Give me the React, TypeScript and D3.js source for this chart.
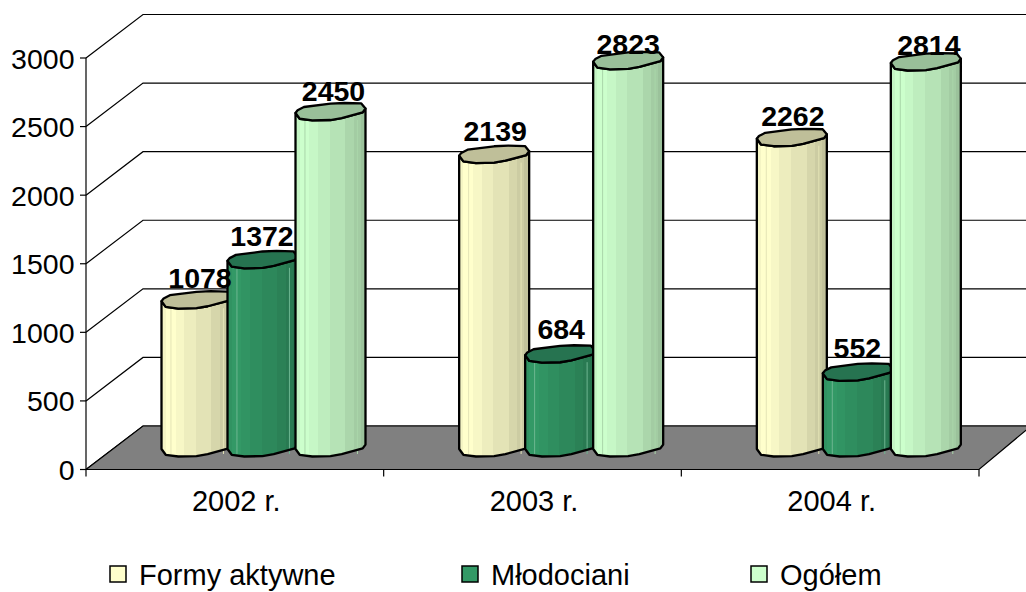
import React from 'react';
import * as d3 from 'd3';

const categories = ['2002 r.', '2003 r.', '2004 r.'];
const seriesNames = ['Formy aktywne', 'Młodociani', 'Ogółem'];
const formyAktywne = [1078, 2139, 2262];
const mlodociani = [1372, 684, 552];
const ogolem = [2450, 2823, 2814];
const yTicks = [0, 500, 1000, 1500, 2000, 2500, 3000];
const seriesValues = [formyAktywne, mlodociani, ogolem];
const sideColors = ['#FFFFCC', '#339966', '#CCFFCC'];
const capColors = ['#BFBF99', '#267350', '#99BF99'];
const seamColors = ['#E4E4B6', '#6DB690', '#A9D6A9'];
const labelNudge = [[3.5, -0.5, 3], [1, 1, 0], [1, -0.5, 3]];
const labelLift = [[12, 14, 11], [13.5, 15, 7], [12, 14, 7]];

const W = 1026, H = 592;
const FONT = '"Liberation Sans", Arial, sans-serif';
const frontX0 = 86, frontX1 = 979, frontY0 = 469.5, frontY3000 = 58;
const depthX = 57, depthY = 43.5;
const y = d3.scaleLinear().domain([0, 3000]).range([frontY0, frontY3000]);
const groupX = d3.scaleBand<string>().domain(categories).range([frontX0, frontX1]);
const barOffset = d3.scaleLinear().domain([0, 1, 2]).range([75.5, 141.5, 209.5]);
const barW = 70, baseShift = 21.5;

// Faceted outline of the cylinder, as fractions of its width and of half-cap heights.
const capTop: [number, number][] = [[0, 0.12], [0.03, -0.2], [0.12, -0.58], [0.5, -0.98], [0.7, -1.05], [0.94, -1], [1, -0.4]];
const capBottom: [number, number][] = [[1, -0.4], [0.96, 0.05], [0.66, 0.72], [0.5, 0.95], [0.24, 1], [0.06, 0.8], [0, 0.12]];
const CAP = 8.5;

function Cylinder({ x, value, s }: { x: number; value: number; s: number }) {
  const topY = y(value) - baseShift;
  const baseY = y(0) - baseShift;
  const px = (f: number) => x + f * barW;
  const line = d3.line<[number, number]>().curve(d3.curveLinear);
  const top = capTop.map(([f, d]) => [px(f), topY + d * CAP] as [number, number]);
  const lower = capBottom.map(([f, d]) => [px(f), topY + d * CAP] as [number, number]);
  const baseLower = capBottom.map(([f, d]) => [px(f), baseY + d * CAP] as [number, number]);
  const body = [...lower, ...[...baseLower].reverse()];
  return (
    <g>
      <path d={line(body) + 'Z'} fill={`url(#side${s})`} stroke="none" />
      {[0.135, 0.885].map((f) => (
        <line key={f} x1={px(f)} x2={px(f)} y1={topY + 8} y2={baseY + 6} stroke={seamColors[s]} strokeWidth={1} />
      ))}
      <path d={line(body) + 'Z'} fill="none" stroke="#000" strokeWidth={2.3} strokeLinejoin="round" />
      <path d={line([...top, ...lower.slice(1)]) + 'Z'} fill={capColors[s]} stroke="#000" strokeWidth={2.3} strokeLinejoin="round" />
    </g>
  );
}

const bands = [0, 0.06, 0.2, 0.32, 0.49, 0.71, 0.83, 0.93, 1];
const shade = [0.96, 1, 0.97, 0.93, 0.89, 0.84, 0.8, 0.76];

export default function App() {
  return (
    <svg width={W} height={H} style={{ position: 'absolute', left: 0, top: 0, background: '#fff' }} fontFamily={FONT}>
      <defs>
        {sideColors.map((c, s) => (
          <linearGradient id={`side${s}`} key={s} x1="0" x2="1" y1="0" y2="0">
            {shade.flatMap((k, i) => {
              const col = d3.rgb(c);
              const fill = d3.rgb(col.r * k, col.g * k, col.b * k).formatHex();
              return [
                <stop key={`${i}a`} offset={bands[i]} stopColor={fill} />,
                <stop key={`${i}b`} offset={bands[i + 1]} stopColor={fill} />,
              ];
            })}
          </linearGradient>
        ))}
      </defs>

      {/* back wall gridlines and side-wall diagonals */}
      {yTicks.map((t) => (
        <g key={t} stroke="#000" strokeWidth={1.2} fill="none">
          <polyline points={`${frontX0},${y(t)} ${frontX0 + depthX},${y(t) - depthY} ${W},${y(t) - depthY}`} />
          <line x1={frontX0 - 6} x2={frontX0} y1={y(t)} y2={y(t)} />
        </g>
      ))}
      <line x1={frontX0} x2={frontX0} y1={y(3000)} y2={y(0)} stroke="#000" strokeWidth={1.2} />

      {/* floor */}
      <path
        d={`M${frontX0},${y(0)}L${frontX0 + depthX},${y(0) - depthY}L${frontX1 + 52},${y(0) - depthY}L${frontX1},${y(0)}Z`}
        fill="#808080"
        stroke="#000"
        strokeWidth={1.2}
      />
      {[0, 1, 2, 3].map((i) => {
        const tx = frontX0 + (i * (frontX1 - frontX0)) / 3;
        return <line key={i} x1={tx} x2={tx} y1={y(0)} y2={y(0) + 7} stroke="#000" strokeWidth={1.2} />;
      })}

      {yTicks.map((t) => (
        <text key={t} x={74.5} y={y(t) + 10.5} textAnchor="end" fontSize={28.5} fill="#000">{t}</text>
      ))}

      {categories.map((c, g) =>
        seriesValues.map((vals, s) => (
          <Cylinder key={`${g}-${s}`} x={groupX(c)! + barOffset(s)} value={vals[g]} s={s} />
        ))
      )}

      {categories.map((c, g) =>
        seriesValues.map((vals, s) => (
          <text
            key={`${g}-${s}`}
            x={groupX(c)! + barOffset(s) + barW / 2 + labelNudge[g][s]}
            y={y(vals[g]) - baseShift - labelLift[g][s]}
            textAnchor="middle"
            fontSize={28.5}
            fontWeight="bold"
            fill="#000"
          >
            {vals[g]}
          </text>
        ))
      )}

      {categories.map((c) => (
        <text key={c} x={groupX(c)! + groupX.bandwidth() / 2 + 1.5} y={511} textAnchor="middle" fontSize={29} fill="#000">{c}</text>
      ))}

      {seriesNames.map((n, s) => {
        const lx = [110, 462, 751][s];
        return (
          <g key={n}>
            <rect x={lx} y={566} width={16} height={16} fill={sideColors[s]} stroke="#000" strokeWidth={1.5} />
            <text x={lx + 29} y={585} fontSize={29} fill="#000">{n}</text>
          </g>
        );
      })}
    </svg>
  );
}
